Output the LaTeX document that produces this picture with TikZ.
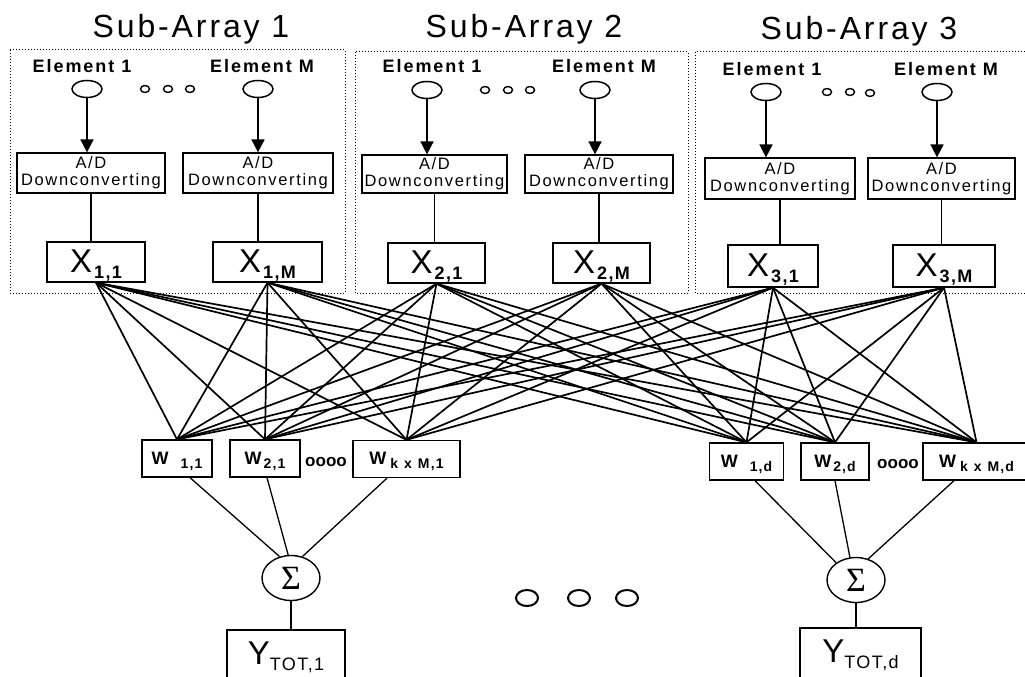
\documentclass[tikz,border=0pt]{standalone}
\usepackage{fontspec}
\setmainfont{Liberation Sans}
\newfontfamily\titlef[LetterSpace=9]{Liberation Sans}
\newfontfamily\elemf[LetterSpace=11]{Liberation Sans}
\newfontfamily\adf[LetterSpace=10]{Liberation Sans}
\newfontfamily\subf[LetterSpace=8]{Liberation Sans}
\newfontfamily\sigf{Liberation Serif}
\usetikzlibrary{arrows.meta,shapes.geometric}

\newcommand\Xl[1]{{\fontsize{33}{33}\selectfont X}\hspace{2pt}\raisebox{-6pt}{\subf\bfseries\fontsize{18}{18}\selectfont #1}}
\newcommand\Wl[2]{{\bfseries\fontsize{18}{18}\selectfont W}#1\raisebox{-4pt}{\subf\bfseries\fontsize{14}{14}\selectfont #2}}
\newcommand\Yl[1]{{\fontsize{33}{33}\selectfont Y}\raisebox{-6pt}{\subf\fontsize{18}{18}\selectfont #1}}

\begin{document}
\begin{tikzpicture}[x=1pt,y=-1pt,
  titlestyle/.style={anchor=base,inner sep=0pt,font=\titlef\fontsize{32}{32}\selectfont},
  elabel/.style={anchor=base,inner sep=0pt,font=\elemf\bfseries\fontsize{18}{18}\selectfont},
  group/.style={dotted,line width=1pt},
  elem/.style={ellipse,draw,line width=1.5pt,minimum width=30pt,minimum height=17pt,inner sep=0pt},
  tdot/.style={ellipse,draw,line width=1.4pt,minimum width=9pt,minimum height=7pt,inner sep=0pt},
  bigdot/.style={ellipse,draw,line width=2pt,minimum width=22pt,minimum height=16pt,inner sep=0pt},
  adbox/.style={draw,line width=1.2pt,minimum height=40pt,inner sep=0pt,align=center,font=\adf\fontsize{16.5}{17}\selectfont},
  xbox/.style={draw,line width=1.3pt,minimum height=40pt,inner sep=0pt,text height=26pt,text depth=6pt},
  wbox/.style={draw,line width=1.3pt,minimum height=37pt,inner sep=0pt,text height=13pt,text depth=2pt},
  ybox/.style={draw,line width=1.3pt,minimum height=52pt,inner sep=0pt,text height=26pt,text depth=10pt},
  sig/.style={ellipse,draw,line width=1.4pt,minimum width=58pt,minimum height=45pt,inner sep=0pt,font=\sigf\fontsize{34}{34}\selectfont},
  dots/.style={inner sep=0pt,font=\bfseries\fontsize{17}{17}\selectfont},
  arr/.style={line width=1.6pt,-{Triangle[width=13pt,length=13pt]}},
  link/.style={line width=1.3pt},
  conn/.style={line width=1.7pt}]
\useasboundingbox (0,0) rectangle (1025,677);

% titles
\node[titlestyle] (t1) at (191,38) {Sub-Array 1};
\node[titlestyle] (t2) at (524,38) {Sub-Array 2};
\node[titlestyle] (t3) at (859,40) {Sub-Array 3};

% sub-array frames
\draw[group] (10,50) rectangle (345,293);
\draw[group] (355,52) rectangle (688,293);
\draw[group] (695,52) rectangle (1030,293);

% element labels
\node[elabel] (l11) at (82,73) {Element 1};
\node[elabel] (l1M) at (262,73) {Element M};
\node[elabel] (l21) at (432,73) {Element 1};
\node[elabel] (l2M) at (604,73) {Element M};
\node[elabel] (l31) at (772,75) {Element 1};
\node[elabel] (l3M) at (946,75) {Element M};

% elements
\node[elem] (e11) at (87,89) {};
\node[elem] (e1M) at (258,89) {};
\node[elem] (e21) at (427,90) {};
\node[elem] (e2M) at (595,90) {};
\node[elem] (e31) at (766,92) {};
\node[elem] (e3M) at (937,92) {};

% small dots
\node[tdot] (d1a) at (145,89) {};
\node[tdot] (d1b) at (168,89) {};
\node[tdot] (d1c) at (190,89) {};
\node[tdot] (d2a) at (485,90) {};
\node[tdot] (d2b) at (508,90) {};
\node[tdot] (d2c) at (530,90) {};
\node[tdot] (d3a) at (827,92) {};
\node[tdot] (d3b) at (850,92) {};
\node[tdot] (d3c) at (870,93) {};

% A/D boxes
\node[adbox,minimum width=148pt] (a11) at (91,173) {A/D\\Downconverting};
\node[adbox,minimum width=150pt] (a1M) at (258,173) {A/D\\Downconverting};
\node[adbox,minimum width=145pt,minimum height=38pt] (a21) at (434.5,174) {A/D\\Downconverting};
\node[adbox,minimum width=148pt,minimum height=38pt] (a2M) at (599,174) {A/D\\Downconverting};
\node[adbox,minimum width=150pt,minimum height=41pt] (a31) at (780,178.5) {A/D\\Downconverting};
\node[adbox,minimum width=147pt,minimum height=41pt] (a3M) at (941.5,178.5) {A/D\\Downconverting};

% X boxes
\node[xbox,minimum width=98pt] (x11) at (96,262) {\Xl{1,1}};
\node[xbox,minimum width=109pt] (x1M) at (267.5,262) {\Xl{1,M}};
\node[xbox,minimum width=97pt] (x21) at (436.5,263) {\Xl{2,1}};
\node[xbox,minimum width=97pt] (x2M) at (601.5,263) {\Xl{2,M}};
\node[xbox,minimum width=90pt,minimum height=42pt] (x31) at (773,266) {\Xl{3,1}};
\node[xbox,minimum width=102pt,minimum height=42pt] (x3M) at (944,266) {\Xl{3,M}};

% element -> A/D arrows, A/D -> X lines
\foreach \e/\a/\x in {e11/a11/x11,e1M/a1M/x1M,e21/a21/x21,e2M/a2M/x2M,e31/a31/x31,e3M/a3M/x3M}{
  \draw[arr] (\e.south) -- (\e.south |- \a.north);
  \draw[link] (\a.south) -- (\a.south |- \x.north);
}

% W boxes
\node[wbox,minimum width=70pt] (w11) at (177,458.5) {\Wl{\hspace{12pt}}{1,1}};
\node[wbox,minimum width=70pt] (w21) at (265,458.5) {\Wl{\hspace{2pt}}{2,1}};
\node[wbox,minimum width=107pt] (wk1) at (406.5,459) {\Wl{\hspace{4pt}}{k\hspace{6pt}x\hspace{6pt}M,1}};
\node[wbox,minimum width=74pt] (w1d) at (746.5,461.5) {\Wl{\hspace{12pt}}{1,d}};
\node[wbox,minimum width=68pt] (w2d) at (835,461.5) {\Wl{\hspace{2pt}}{2,d}};
\node[wbox,minimum width=107pt] (wkd) at (976.5,461.5) {\Wl{\hspace{4pt}}{k\hspace{6pt}x\hspace{6pt}M,d}};
\node[dots] (o1) at (326,462) {oooo};
\node[dots] (o2) at (898,464) {oooo};

% full mesh X -> W
\foreach \a in {x11,x1M,x21,x2M,x31,x3M}{
  \foreach \b in {w11,w21,wk1,w1d,w2d,wkd}{
    \draw[conn] (\a.south) -- (\b.north);
  }
}

% summers
\node[sig] (s1) at (291,578) {Σ};
\node[sig] (s2) at (856,580) {Σ};
\draw[link] ([xshift=13pt]w11.south) -- (s1.118);
\draw[link] ([xshift=2pt]w21.south) -- (s1.97);
\draw[link] ([xshift=-19.5pt]wk1.south) -- (s1.62);
\draw[link] ([xshift=8.5pt]w1d.south) -- (s2.139);
\draw[link] (w2d.south) -- (s2.105);
\draw[link] ([xshift=-22.5pt]wkd.south) -- (s2.60);

% outputs
\node[ybox,minimum width=118pt] (y1) at (286,656) {\Yl{TOT,1}};
\node[ybox,minimum width=121pt] (yd) at (860.5,654) {\Yl{TOT,d}};
\draw[link] (s1.south) -- (s1.south |- y1.north);
\draw[link] (s2.south) -- (s2.south |- yd.north);

% big dots
\node[bigdot] (b1) at (527,598) {};
\node[bigdot] (b2) at (579,598) {};
\node[bigdot] (b3) at (627,598) {};
\end{tikzpicture}
\end{document}
